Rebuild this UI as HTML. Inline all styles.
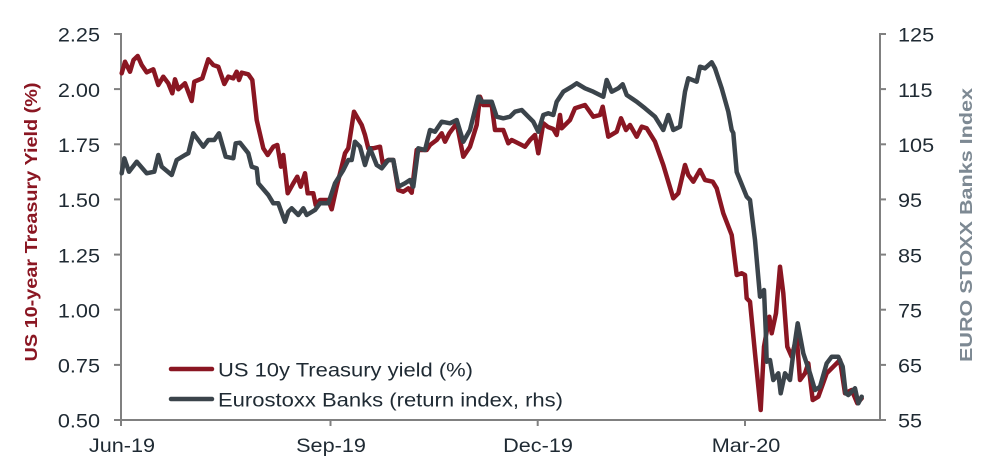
<!DOCTYPE html>
<html>
<head>
<meta charset="utf-8">
<style>
html,body{margin:0;padding:0;background:#fff;}
svg{display:block;}
text{font-family:"Liberation Sans",Arial,sans-serif;}
</style>
</head>
<body>
<svg width="987" height="468" viewBox="0 0 987 468" xmlns="http://www.w3.org/2000/svg">
  <rect width="987" height="468" fill="#fff"/>
  <!-- axes -->
  <g stroke="#808080" stroke-width="2" fill="none">
    <line x1="121" y1="33" x2="121" y2="421"/>
    <line x1="880" y1="33" x2="880" y2="421"/>
    <line x1="120" y1="420" x2="881" y2="420"/>
    <!-- left ticks -->
    <line x1="114" y1="34" x2="121" y2="34"/>
    <line x1="114" y1="89.1" x2="121" y2="89.1"/>
    <line x1="114" y1="144.3" x2="121" y2="144.3"/>
    <line x1="114" y1="199.4" x2="121" y2="199.4"/>
    <line x1="114" y1="254.6" x2="121" y2="254.6"/>
    <line x1="114" y1="309.7" x2="121" y2="309.7"/>
    <line x1="114" y1="364.9" x2="121" y2="364.9"/>
    <line x1="114" y1="420" x2="121" y2="420"/>
    <!-- right ticks -->
    <line x1="880" y1="34" x2="886" y2="34"/>
    <line x1="880" y1="89.1" x2="886" y2="89.1"/>
    <line x1="880" y1="144.3" x2="886" y2="144.3"/>
    <line x1="880" y1="199.4" x2="886" y2="199.4"/>
    <line x1="880" y1="254.6" x2="886" y2="254.6"/>
    <line x1="880" y1="309.7" x2="886" y2="309.7"/>
    <line x1="880" y1="364.9" x2="886" y2="364.9"/>
    <line x1="880" y1="420" x2="886" y2="420"/>
    <!-- x ticks -->
    <line x1="121" y1="420" x2="121" y2="426"/>
    <line x1="330.5" y1="420" x2="330.5" y2="426"/>
    <line x1="537.7" y1="420" x2="537.7" y2="426"/>
    <line x1="745" y1="420" x2="745" y2="426"/>
  </g>

  <!-- left tick labels -->
  <g font-size="19" fill="#1f2a33" text-anchor="end">
    <text transform="translate(100,41.7) scale(1.14,1)">2.25</text>
    <text transform="translate(100,96.8) scale(1.14,1)">2.00</text>
    <text transform="translate(100,152) scale(1.14,1)">1.75</text>
    <text transform="translate(100,207.1) scale(1.14,1)">1.50</text>
    <text transform="translate(100,262.3) scale(1.14,1)">1.25</text>
    <text transform="translate(100,317.4) scale(1.14,1)">1.00</text>
    <text transform="translate(100,372.6) scale(1.14,1)">0.75</text>
    <text transform="translate(100,427.7) scale(1.14,1)">0.50</text>
  </g>
  <!-- right tick labels -->
  <g font-size="19" fill="#1f2a33" text-anchor="start">
    <text transform="translate(898,41.7) scale(1.14,1)">125</text>
    <text transform="translate(898,96.8) scale(1.14,1)">115</text>
    <text transform="translate(898,152) scale(1.14,1)">105</text>
    <text transform="translate(898,207.1) scale(1.14,1)">95</text>
    <text transform="translate(898,262.3) scale(1.14,1)">85</text>
    <text transform="translate(898,317.4) scale(1.14,1)">75</text>
    <text transform="translate(898,372.6) scale(1.14,1)">65</text>
    <text transform="translate(898,427.7) scale(1.14,1)">55</text>
  </g>
  <!-- x labels -->
  <g font-size="19" fill="#1f2a33" text-anchor="middle">
    <text transform="translate(122,452) scale(1.14,1)">Jun-19</text>
    <text transform="translate(331,452) scale(1.14,1)">Sep-19</text>
    <text transform="translate(538,452) scale(1.14,1)">Dec-19</text>
    <text transform="translate(746,452) scale(1.14,1)">Mar-20</text>
  </g>

  <!-- axis titles -->
  <text transform="translate(37,222) rotate(-90)" text-anchor="middle" font-size="17.5" font-weight="bold" fill="#8a1622" textLength="279" lengthAdjust="spacingAndGlyphs">US 10-year Treasury Yield (%)</text>
  <text transform="translate(972,225) rotate(-90)" text-anchor="middle" font-size="17.5" font-weight="bold" fill="#7d8993" textLength="274" lengthAdjust="spacingAndGlyphs">EURO STOXX Banks Index</text>

  <!-- red series -->
  <polyline fill="none" stroke="#8a1622" stroke-width="4.5" stroke-linejoin="round" stroke-linecap="round"
    points="121.7,73.3 125,61.7 130,71.7 133.5,60 137.7,56 141.7,65 146.7,72.3 153.3,69.3 158.3,85 163.3,76.7 168.3,83.3 172.3,93.3 175,79.3 178.3,89.3 185,83.3 191.7,101 194.3,81.7 202.3,78.3 208.3,59.3 213.3,65 218.3,66.7 224.3,84 228.3,76.7 233.3,78.3 236.7,71.7 239,80 241.7,72.7 248.3,74.3 252.3,80 256.7,120 263.3,148.3 267.7,155 273.3,146.7 277.3,145 281,166.7 283.3,155 287.7,193.3 293.3,183.3 297.3,176.7 300.7,186.7 305,173.3 307.7,193.3 313.3,193.3 315.7,205 320,200 328.3,200 331.7,209.3 336.7,186.7 345,153.3 348.3,148.3 354,111.7 361.7,125 365,135 368.3,148.3 373.3,148.3 380,146.7 382.7,163.3 388.3,160 393.3,160 398.3,190 403.3,191.7 408.3,188.3 411.7,192.7 416.7,150 426.7,150 430,145 436.7,140 441.7,133.3 445,141.7 449.3,133.3 456.7,123.3 463.3,156.7 470,146.7 476.7,125 480,96.7 483.3,105 491.7,105 495,130 503.3,130 508.3,143.3 511.7,140 521.7,145 525,146.7 530,140 535,135 538.3,153.3 543.3,123.3 548,127 553.3,129 556.7,135 560,115 561.7,128.3 570,120 575,108.3 585,105 593.3,116.7 600,115 602.7,106.7 608.3,136.7 616.7,131.7 621,118.3 626,130 630,125 636.7,136.7 641.7,126.7 646.7,128.3 655,141.7 663.3,165 668.3,181.7 673.3,198.3 678.3,193.3 685,165 688.3,175 693.3,181.7 700,170 705,180 712.7,181.7 716.7,188.3 723.3,213.3 731.7,235 736.7,275 741.7,273.3 745,275 746.7,298.3 750,301.7 755,353.3 760.7,410 764,346.7 769.3,316.7 771.7,333.3 776,313.3 780,266.7 783.3,293.3 787.3,346.7 791.7,356.7 796.7,336.7 800,380 805,373.3 808.3,363.3 812.7,400 818.3,396.7 826.7,373.3 833.3,366.7 840,360 845,393.3 851.7,390 857.3,403.3 861.7,398.3"/>

  <!-- gray series -->
  <polyline fill="none" stroke="#3b444b" stroke-width="4.5" stroke-linejoin="round" stroke-linecap="round"
    points="121.7,173.3 124.3,158.3 129,171.7 136.7,161.7 146.7,173.3 154.3,171.7 158.3,155 161.7,166.7 171.7,175 176.7,160 185,155 188.3,153.3 193.3,133.3 203.3,146.7 208.3,140 214.3,140 219,133.3 225.7,156.7 233.3,158.3 235.7,143.3 240,142.7 248.3,153.3 251.7,166.7 256.7,168.3 258.3,183.3 268.3,195 273.3,203.3 278.3,203.3 285,221.7 288.3,211.7 291.7,208.3 298.3,215 303.3,208.3 306.7,215 315,210 320,203.3 328.3,203.3 335,183.3 343.3,170 348.3,160 351.7,160 355,141.7 360,146.7 365,165 370,148.3 376.7,165 381.7,168.3 388.3,160 393.3,160 398.3,186.7 405,183.3 410,180 413.3,186.7 418.3,148.3 425,150 430,130 435,131.7 441.7,121.7 450,123.3 456.7,120 463.3,141.7 470,130 478.3,96.7 481.7,101.7 491.7,101.7 496.7,116.7 503.3,118.3 510,116.7 515,111.7 521.7,110 528.3,116.7 533.3,121.7 538.3,131.7 543.3,115 548.3,113.3 553.3,115 556.7,101.7 563.3,91.7 571.7,86.7 576.7,83.3 585,88.3 593.3,91.7 603.3,96.7 606.7,80 611.7,91.7 618.3,88.3 622.7,84.3 626.7,95 636.7,101.7 645,108.3 655,116.7 663.3,130 668.3,115 673.3,130 680,126.7 685,91.7 688.3,78.3 696.7,81.7 700,66.7 705,68.3 711.7,62.3 715,68.3 721.7,88.3 728.3,111.7 731.7,130 733.3,133 736.7,172 746.7,196.7 750,200 755,240 760,296.7 764,290 765.7,330 766.7,361.7 770,360 773.3,380 778.3,373.3 780.7,393.3 785,373.3 790,380 793.3,353.3 797.7,323.3 803.3,353.3 810,373.3 815,390 820,386.7 826.7,363.3 831.7,356.7 838.3,356.7 842.7,366.7 845.7,393.3 848.3,395 855,388.3 858.3,403.3 861.7,396.7"/>

  <!-- legend -->
  <line x1="171" y1="369" x2="212" y2="369" stroke="#8a1622" stroke-width="4.5" stroke-linecap="round"/>
  <line x1="171" y1="399" x2="212" y2="399" stroke="#3b444b" stroke-width="4.5" stroke-linecap="round"/>
  <g font-size="19" fill="#1f2a33">
    <text x="218" y="376.7" textLength="255" lengthAdjust="spacingAndGlyphs">US 10y Treasury yield (%)</text>
    <text x="218" y="406.7" textLength="345" lengthAdjust="spacingAndGlyphs">Eurostoxx Banks (return index, rhs)</text>
  </g>
</svg>
</body>
</html>
